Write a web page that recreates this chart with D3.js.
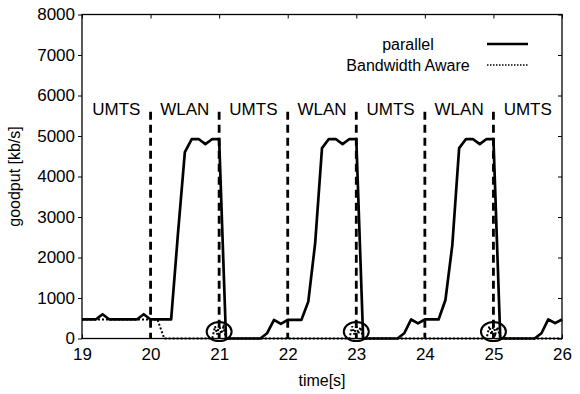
<!DOCTYPE html>
<html>
<head>
<meta charset="utf-8">
<script src="https://cdn.jsdelivr.net/npm/d3@7"></script>
<style>
  body { margin: 0; background: #fff; }
  text { font-family: "Liberation Sans", Arial, sans-serif; fill: #000; }
</style>
</head>
<body>
<div id="chart"></div>
<script>
// sample times (s) and goodput of the "parallel" scheme (kb/s)
const timeSteps = [19.0, 19.1, 19.2, 19.3, 19.4, 19.5, 19.6, 19.7, 19.8, 19.9,
  20.0, 20.1, 20.2, 20.3, 20.4, 20.5, 20.6, 20.7, 20.8, 20.9,
  21.0, 21.1, 21.2, 21.3, 21.4, 21.5, 21.6, 21.7, 21.8, 21.9,
  22.0, 22.1, 22.2, 22.3, 22.4, 22.5, 22.6, 22.7, 22.8, 22.9,
  23.0, 23.1, 23.2, 23.3, 23.4, 23.5, 23.6, 23.7, 23.8, 23.9,
  24.0, 24.1, 24.2, 24.3, 24.4, 24.5, 24.6, 24.7, 24.8, 24.9,
  25.0, 25.1, 25.2, 25.3, 25.4, 25.5, 25.6, 25.7, 25.8, 25.9, 26.0];
const parallelKbps = [470, 470, 470, 600, 470, 470, 470, 470, 470, 600,
  470, 470, 470, 470, 2600, 4600, 4925, 4925, 4800, 4925,
  4925, 0, 0, 0, 0, 0, 0, 130, 460, 360,
  460, 460, 460, 910, 2350, 4700, 4925, 4925, 4800, 4925,
  4925, 0, 0, 0, 0, 0, 0, 130, 470, 375,
  470, 470, 470, 950, 2300, 4700, 4925, 4925, 4800, 4925,
  4925, 0, 0, 0, 0, 0, 0, 130, 470, 380, 470];

// "Bandwidth Aware" scheme
const awareTimes = [19.0, 20.1, 20.2, 20.9, 20.94, 20.97, 21.0, 21.03, 21.06, 21.1,
  22.9, 22.94, 22.97, 23.0, 23.03, 23.06, 23.1,
  24.9, 24.94, 24.97, 25.0, 25.03, 25.06, 25.1, 26.0];
const awareKbps = [470, 470, 0, 0, 300, 100, 330, 120, 280, 0,
  0, 300, 100, 330, 120, 280, 0,
  0, 300, 100, 330, 120, 280, 0, 0];

// network handovers and the active interface between them
const switchTimes = [20, 21, 22, 23, 24, 25];
const switchTop = 5600;
const networkLabels = ["UMTS", "WLAN", "UMTS", "WLAN", "UMTS", "WLAN", "UMTS"];
const labelTimes = [19.5, 20.5, 21.5, 22.5, 23.5, 24.5, 25.5];
const labelKbps = 5530;

// highlighted spots
const circleTimes = [21, 23, 25];
const circleKbps = 170;

const xTicks = [19, 20, 21, 22, 23, 24, 25, 26];
const yTicks = [0, 1000, 2000, 3000, 4000, 5000, 6000, 7000, 8000];

const W = 580, H = 394;
const margin = { top: 14.5, right: 18, bottom: 55.5, left: 82 };
const width = W - margin.left - margin.right;
const height = H - margin.top - margin.bottom;

const svg = d3.select("#chart")
  .append("svg")
  .attr("width", W)
  .attr("height", H);

const g = svg.append("g")
  .attr("transform", `translate(${margin.left},${margin.top})`);

const x = d3.scaleLinear().domain([19, 26]).range([0, width]);
const y = d3.scaleLinear().domain([0, 8000]).range([height, 0]);

// axes: left and bottom with labels, top and right mirrored ticks
const axisLeft = g.append("g")
  .call(d3.axisLeft(y).tickValues(yTicks).tickSize(4).tickPadding(3).tickFormat(d3.format("d")));
const axisBottom = g.append("g")
  .attr("transform", `translate(0,${height})`)
  .call(d3.axisBottom(x).tickValues(xTicks).tickSize(-4).tickPadding(9).tickFormat(d3.format("d")));
const axisTop = g.append("g")
  .call(d3.axisTop(x).tickValues(xTicks).tickSize(-4).tickFormat(""));
const axisRight = g.append("g")
  .attr("transform", `translate(${width},0)`)
  .call(d3.axisRight(y).tickValues(yTicks).tickSize(-4).tickFormat(""));

[axisLeft, axisBottom, axisTop, axisRight].forEach(a => {
  a.select(".domain").remove();
  a.selectAll("line").attr("stroke", "#000").attr("stroke-width", 1);
  a.selectAll("text").attr("font-size", "17px").attr("fill", "#000");
});

// frame
g.append("rect")
  .attr("width", width)
  .attr("height", height)
  .attr("fill", "none")
  .attr("stroke", "#000")
  .attr("stroke-width", 1.3);

// axis titles
g.append("text")
  .attr("x", width / 2)
  .attr("y", height + 47)
  .attr("text-anchor", "middle")
  .attr("font-size", "16px")
  .text("time[s]");

g.append("text")
  .attr("transform", `translate(${-62},${height / 2}) rotate(-90)`)
  .attr("text-anchor", "middle")
  .attr("font-size", "16px")
  .text("goodput [kb/s]");

// handover markers
g.selectAll(".switch")
  .data(switchTimes)
  .join("line")
  .attr("x1", d => x(d))
  .attr("x2", d => x(d))
  .attr("y1", y(switchTop))
  .attr("y2", y(0))
  .attr("stroke", "#000")
  .attr("stroke-width", 2.8)
  .attr("stroke-dasharray", "8,5");

g.selectAll(".net")
  .data(networkLabels)
  .join("text")
  .attr("x", (d, i) => x(labelTimes[i]))
  .attr("y", y(labelKbps))
  .attr("text-anchor", "middle")
  .attr("font-size", "17px")
  .text(d => d);

// series
const line = d3.line()
  .x(d => x(d[0]))
  .y(d => y(d[1]));

g.append("path")
  .datum(awareTimes.map((t, i) => [t, awareKbps[i]]))
  .attr("fill", "none")
  .attr("stroke", "#000")
  .attr("stroke-width", 2)
  .attr("stroke-dasharray", "2,2")
  .attr("d", line);

g.append("path")
  .datum(timeSteps.map((t, i) => [t, parallelKbps[i]]))
  .attr("fill", "none")
  .attr("stroke", "#000")
  .attr("stroke-width", 2.7)
  .attr("stroke-linejoin", "round")
  .attr("d", line);

g.selectAll(".spot")
  .data(circleTimes)
  .join("ellipse")
  .attr("cx", d => x(d))
  .attr("cy", y(circleKbps))
  .attr("rx", 12.5)
  .attr("ry", 9.5)
  .attr("fill", "none")
  .attr("stroke", "#000")
  .attr("stroke-width", 2);

// legend
const legend = g.append("g")
  .attr("transform", `translate(${326 - margin.left},${44 - margin.top})`);

[["parallel", null, 2.7], ["Bandwidth Aware", "1.5,1.5", 1.6]].forEach(([name, dash, sw], i) => {
  const row = legend.append("g").attr("transform", `translate(0,${i * 21})`);
  row.append("text")
    .attr("x", 82)
    .attr("y", 6)
    .attr("text-anchor", "middle")
    .attr("font-size", "16px")
    .text(name);
  row.append("line")
    .attr("x1", 161)
    .attr("x2", 202)
    .attr("stroke", "#000")
    .attr("stroke-width", sw)
    .attr("stroke-dasharray", dash);
});
</script>
</body>
</html>
